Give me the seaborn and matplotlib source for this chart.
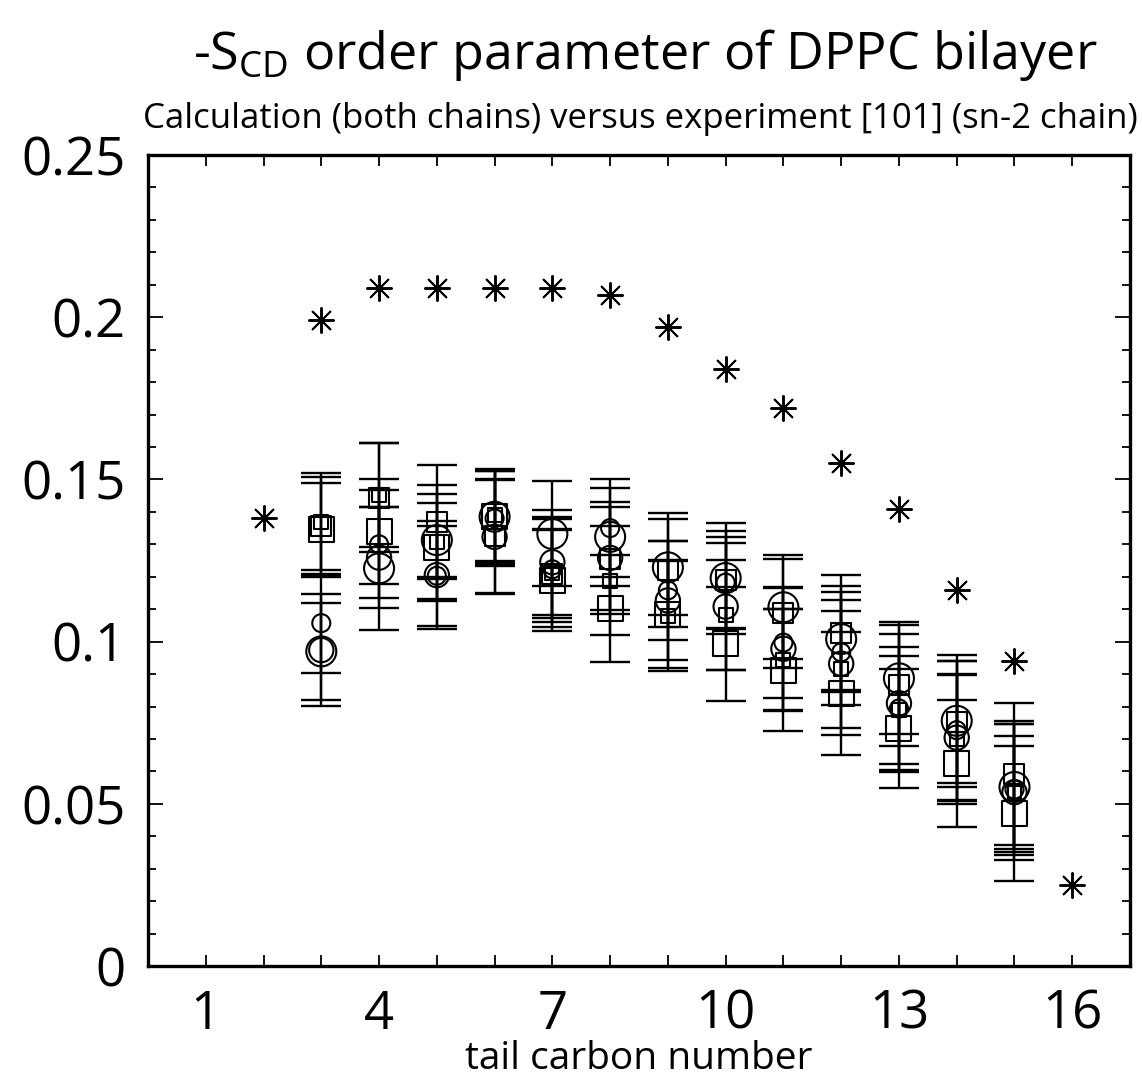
import numpy as np
import pandas as pd
import seaborn as sns
import matplotlib
matplotlib.use("Agg")
import matplotlib.pyplot as plt
from matplotlib.ticker import MultipleLocator

# Carbon positions along the tail
carbons_exp = [2, 3, 4, 5, 6, 7, 8, 9, 10, 11, 12, 13, 14, 15, 16]
carbons_sim = [3, 4, 5, 6, 7, 8, 9, 10, 11, 12, 13, 14, 15]

# Experimental -S_CD (sn-2 chain)
scd_exp = [0.138, 0.199, 0.209, 0.209, 0.209, 0.209, 0.207, 0.197,
           0.184, 0.172, 0.155, 0.141, 0.116, 0.094, 0.025]

# Calculated -S_CD, six runs (circles and squares of three sizes)
circle_large = [0.0970, 0.1226, 0.1313, 0.1385, 0.1332, 0.1323, 0.1229,
                0.1196, 0.1106, 0.1008, 0.0887, 0.0756, 0.0552]
circle_large_err = [0.0149, 0.0190, 0.0113, 0.0145, 0.0162, 0.0151, 0.0148,
                    0.0171, 0.0161, 0.0164, 0.0172, 0.0203, 0.0202]
circle_mid = [0.0974, 0.1259, 0.1205, 0.1323, 0.1245, 0.1258, 0.1127,
              0.1108, 0.0978, 0.0932, 0.0810, 0.0704, 0.0536]
circle_mid_err = [0.0173, 0.0155, 0.0166, 0.0175, 0.0162, 0.0172, 0.0184,
                  0.0196, 0.0188, 0.0221, 0.0213, 0.0194, 0.0210]
circle_small = [0.1057, 0.1300, 0.1203, 0.1380, 0.1223, 0.1350, 0.1158,
                0.1182, 0.0997, 0.0967, 0.0794, 0.0727, 0.0544]
circle_small_err = [0.0153, 0.0167, 0.0155, 0.0146, 0.0162, 0.0150, 0.0153,
                    0.0140, 0.0171, 0.0162, 0.0189, 0.0214, 0.0201]
square_large = [0.1345, 0.1339, 0.1290, 0.1385, 0.1190, 0.1103, 0.1083,
                0.0993, 0.0912, 0.0840, 0.0732, 0.0624, 0.0470]
square_large_err = [0.0145, 0.0161, 0.0164, 0.0142, 0.0157, 0.0165, 0.0165,
                    0.0175, 0.0188, 0.0190, 0.0184, 0.0196, 0.0208]
square_mid = [0.1356, 0.1443, 0.1369, 0.1325, 0.1208, 0.1256, 0.1222,
              0.1190, 0.1088, 0.1028, 0.0865, 0.0752, 0.0592]
square_mid_err = [0.0151, 0.0168, 0.0175, 0.0175, 0.0136, 0.0160, 0.0176,
                  0.0150, 0.0168, 0.0177, 0.0186, 0.0189, 0.0220]
square_small = [0.1370, 0.1452, 0.1306, 0.1390, 0.1212, 0.1188, 0.1080,
                0.1083, 0.0944, 0.0915, 0.0790, 0.0700, 0.0535]
square_small_err = [0.0150, 0.0159, 0.0176, 0.0141, 0.0166, 0.0168, 0.0171,
                    0.0170, 0.0157, 0.0180, 0.0167, 0.0200, 0.0175]

x_ticks = [1, 4, 7, 10, 13, 16]
y_ticks = [0, 0.05, 0.1, 0.15, 0.2, 0.25]
y_tick_labels = ["0", "0.05", "0.1", "0.15", "0.2", "0.25"]

FONT = ["Open Sans", "DejaVu Sans"]

sns.set_theme(style="ticks")
plt.rcParams["font.family"] = FONT
plt.rcParams["text.color"] = "black"
plt.rcParams["axes.labelcolor"] = "black"
plt.rcParams["xtick.color"] = "black"
plt.rcParams["ytick.color"] = "black"
plt.rcParams["mathtext.fontset"] = "custom"
plt.rcParams["mathtext.rm"] = "Open Sans"
plt.rcParams["mathtext.it"] = "Open Sans:italic"

fig = plt.figure(figsize=(11.42, 10.79), dpi=100)
ax = fig.add_axes([0.1296, 0.1047, 0.8599, 0.7516])

runs = [
    (circle_large, circle_large_err, "o", 21.6),
    (circle_mid, circle_mid_err, "o", 17.5),
    (circle_small, circle_small_err, "o", 13.0),
    (square_large, square_large_err, "s", 18.0),
    (square_mid, square_mid_err, "s", 14.4),
    (square_small, square_small_err, "s", 10.0),
]

for vals, errs, mk, msize in runs:
    df = pd.DataFrame({"carbon": carbons_sim, "scd": vals, "err": errs})
    ax.errorbar(df["carbon"], df["scd"], yerr=df["err"], fmt="none",
                ecolor="black", elinewidth=1.7, capsize=14.5, capthick=1.7,
                zorder=2)
    sns.scatterplot(data=df, x="carbon", y="scd", marker=mk, s=msize ** 2,
                    facecolors="none", edgecolor="black", linewidth=1.5,
                    ax=ax, zorder=3, legend=False)

exp_df = pd.DataFrame({"carbon": carbons_exp, "scd": scd_exp})
sns.scatterplot(data=exp_df, x="carbon", y="scd", marker=(8, 2, 0), s=18 ** 2,
                color="black", linewidth=1.4, ax=ax, zorder=4, legend=False)

ax.set_xlim(0, 17)
ax.set_ylim(0, 0.25)
ax.xaxis.set_minor_locator(MultipleLocator(1))
ax.yaxis.set_minor_locator(MultipleLocator(0.01))
ax.set_xticks(x_ticks)
ax.set_xticklabels([str(t) for t in x_ticks])
ax.set_yticks(y_ticks)
ax.set_yticklabels(y_tick_labels)

ax.tick_params(which="both", direction="in", top=True, right=True,
               color="black", width=1.3, labelcolor="black")
ax.tick_params(which="major", length=11, labelsize=38)
ax.tick_params(which="minor", length=6)
ax.tick_params(axis="x", which="both", length=8, pad=16)
ax.tick_params(axis="y", which="major", pad=16)
for sp in ax.spines.values():
    sp.set_linewidth(2.4)
    sp.set_color("black")

ax.set_xlabel("")
ax.set_ylabel("")
fig.text(0.5595, 0.0185, "tail carbon number", ha="center", va="center",
         fontsize=28)

fig.text(0.565, 0.949, r"-S$_{\mathrm{CD}}$ order parameter of DPPC bilayer",
         ha="center", va="center", fontsize=37.5)
fig.text(0.561, 0.890,
         "Calculation (both chains) versus experiment [101] (sn-2 chain)",
         ha="center", va="center", fontsize=25)

fig.savefig("out.png", dpi=100, facecolor="white")
